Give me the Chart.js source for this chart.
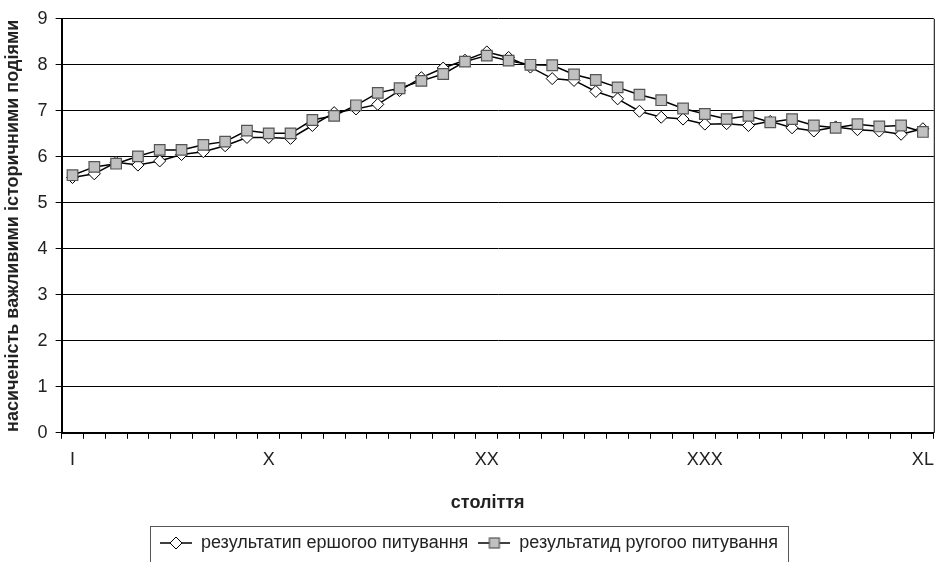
<!DOCTYPE html>
<html>
<head>
<meta charset="utf-8">
<script src="https://cdn.jsdelivr.net/npm/chart.js@4/dist/chart.umd.min.js"></script>
<style>
  html, body { margin: 0; padding: 0; background: #fff; }
</style>
</head>
<body>
<canvas id="chart" width="944" height="562"></canvas>
<script>
// століття I..XL
const centuries = ['I', 'II', 'III', 'IV', 'V', 'VI', 'VII', 'VIII', 'IX', 'X',
    'XI', 'XII', 'XIII', 'XIV', 'XV', 'XVI', 'XVII', 'XVIII', 'XIX', 'XX',
    'XXI', 'XXII', 'XXIII', 'XXIV', 'XXV', 'XXVI', 'XXVII', 'XXVIII', 'XXIX', 'XXX',
    'XXXI', 'XXXII', 'XXXIII', 'XXXIV', 'XXXV', 'XXXVI', 'XXXVII', 'XXXVIII', 'XXXIX', 'XL'];
const shownCenturies = ['I', 'X', 'XX', 'XXX', 'XL'];

const firstSurvey = [5.55, 5.63, 5.88, 5.82, 5.91, 6.05, 6.11, 6.24, 6.42, 6.42,
    6.40, 6.68, 6.96, 7.04, 7.14, 7.44, 7.72, 7.93, 8.10, 8.28,
    8.16, 7.95, 7.70, 7.66, 7.42, 7.26, 6.99, 6.86, 6.82, 6.71,
    6.72, 6.68, 6.77, 6.63, 6.56, 6.65, 6.59, 6.56, 6.49, 6.61];
const secondSurvey = [5.60, 5.78, 5.85, 6.01, 6.15, 6.15, 6.26, 6.33, 6.57, 6.51,
    6.51, 6.80, 6.89, 7.12, 7.39, 7.49, 7.65, 7.80, 8.07, 8.20,
    8.09, 8.00, 7.99, 7.79, 7.67, 7.51, 7.35, 7.23, 7.05, 6.93,
    6.82, 6.89, 6.75, 6.82, 6.68, 6.63, 6.71, 6.66, 6.68, 6.54];

const seriesNames = ['результатип ершогоо питування', 'результатид ругогоо питування'];
const yTitle = 'насиченість важливими історичними подіями';
const xTitle = 'століття';

const FONT = '"Liberation Sans Narrow", "Liberation Sans", Arial, sans-serif';

// легенда: лінія з маркером
function legendIcon(kind) {
    const c = document.createElement('canvas');
    c.width = 32; c.height = 16;
    const g = c.getContext('2d');
    g.strokeStyle = '#000';
    g.lineWidth = 1.5;
    g.beginPath(); g.moveTo(0, 8); g.lineTo(32, 8); g.stroke();
    if (kind === 'diamond') {
        g.fillStyle = '#fff';
        g.lineWidth = 1;
        g.beginPath();
        g.moveTo(16, 2); g.lineTo(22, 8); g.lineTo(16, 14); g.lineTo(10, 8); g.closePath();
        g.fill(); g.stroke();
    } else {
        g.fillStyle = '#c0c0c0';
        g.strokeStyle = '#555';
        g.lineWidth = 1.2;
        g.fillRect(11, 3, 10, 10);
        g.strokeRect(11, 3, 10, 10);
    }
    return c;
}
const icons = [legendIcon('diamond'), legendIcon('square')];

const frame = {
    id: 'frame',
    afterDraw(chart) {
        const ctx = chart.ctx;
        const a = chart.chartArea;
        ctx.save();
        ctx.strokeStyle = '#000';
        ctx.lineWidth = 1;
        ctx.beginPath();
        ctx.moveTo(a.right + 0.5, a.top);
        ctx.lineTo(a.right + 0.5, a.bottom);
        ctx.stroke();
        // рамка легенди
        const boxes = chart.legend.legendHitBoxes;
        if (boxes && boxes.length) {
            const left = Math.min(...boxes.map(b => b.left)) - 10;
            const right = Math.max(...boxes.map(b => b.left + b.width)) + 10;
            const top = Math.min(...boxes.map(b => b.top)) - 8;
            ctx.strokeStyle = '#555';
            ctx.strokeRect(left + 0.5, top + 0.5, right - left, chart.height);
        }
        ctx.restore();
    }
};

new Chart(document.getElementById('chart').getContext('2d'), {
    type: 'line',
    data: {
        labels: centuries,
        datasets: [
            {
                label: seriesNames[0],
                data: firstSurvey,
                borderColor: '#000',
                borderWidth: 1.5,
                pointStyle: 'rectRot',
                pointRadius: 6,
                pointBackgroundColor: '#fff',
                pointBorderColor: '#000',
                pointBorderWidth: 1,
                order: 2
            },
            {
                label: seriesNames[1],
                data: secondSurvey,
                borderColor: '#000',
                borderWidth: 1.5,
                pointStyle: 'rect',
                pointRadius: 7.5,
                pointBackgroundColor: '#c0c0c0',
                pointBorderColor: '#555',
                pointBorderWidth: 1.2,
                order: 1
            }
        ]
    },
    options: {
        responsive: false,
        animation: false,
        layout: { padding: { left: 2, right: 8, top: 2, bottom: 0 } },
        plugins: {
            tooltip: { enabled: false },
            legend: {
                position: 'bottom',
                labels: {
                    usePointStyle: true,
                    pointStyleWidth: 32,
                    padding: 10,
                    color: '#222',
                    font: { family: FONT, size: 18 },
                    generateLabels(chart) {
                        return Chart.defaults.plugins.legend.labels.generateLabels(chart)
                            .sort((p, q) => p.datasetIndex - q.datasetIndex)
                            .map(l => ({ ...l, pointStyle: icons[l.datasetIndex] }));
                    }
                }
            }
        },
        scales: {
            x: {
                offset: true,
                grid: { drawOnChartArea: false, drawTicks: true, tickLength: 6, color: '#000', offset: true },
                border: { color: '#000', width: 2 },
                ticks: {
                    autoSkip: false,
                    maxRotation: 0,
                    padding: 10,
                    color: '#222',
                    font: { family: FONT, size: 18 },
                    callback(v, i) {
                        const c = centuries[i];
                        return shownCenturies.includes(c) ? c : '';
                    }
                },
                title: {
                    display: true,
                    // пробіли зсувають підпис трохи ліворуч, як в оригіналі
                    text: xTitle + '    ',
                    color: '#222',
                    font: { family: FONT, size: 18, weight: 'bold' },
                    padding: { top: 12, bottom: 10 }
                }
            },
            y: {
                min: 0,
                max: 9,
                grid: { color: '#000', lineWidth: 1, tickLength: 6 },
                border: { color: '#000', width: 2 },
                ticks: {
                    stepSize: 1,
                    padding: 8,
                    color: '#222',
                    font: { family: FONT, size: 18 }
                },
                title: {
                    display: true,
                    text: yTitle,
                    color: '#222',
                    font: { family: FONT, size: 18, weight: 'bold' },
                    padding: { top: 0, bottom: 6 }
                }
            }
        }
    },
    plugins: [frame]
});
</script>
</body>
</html>
